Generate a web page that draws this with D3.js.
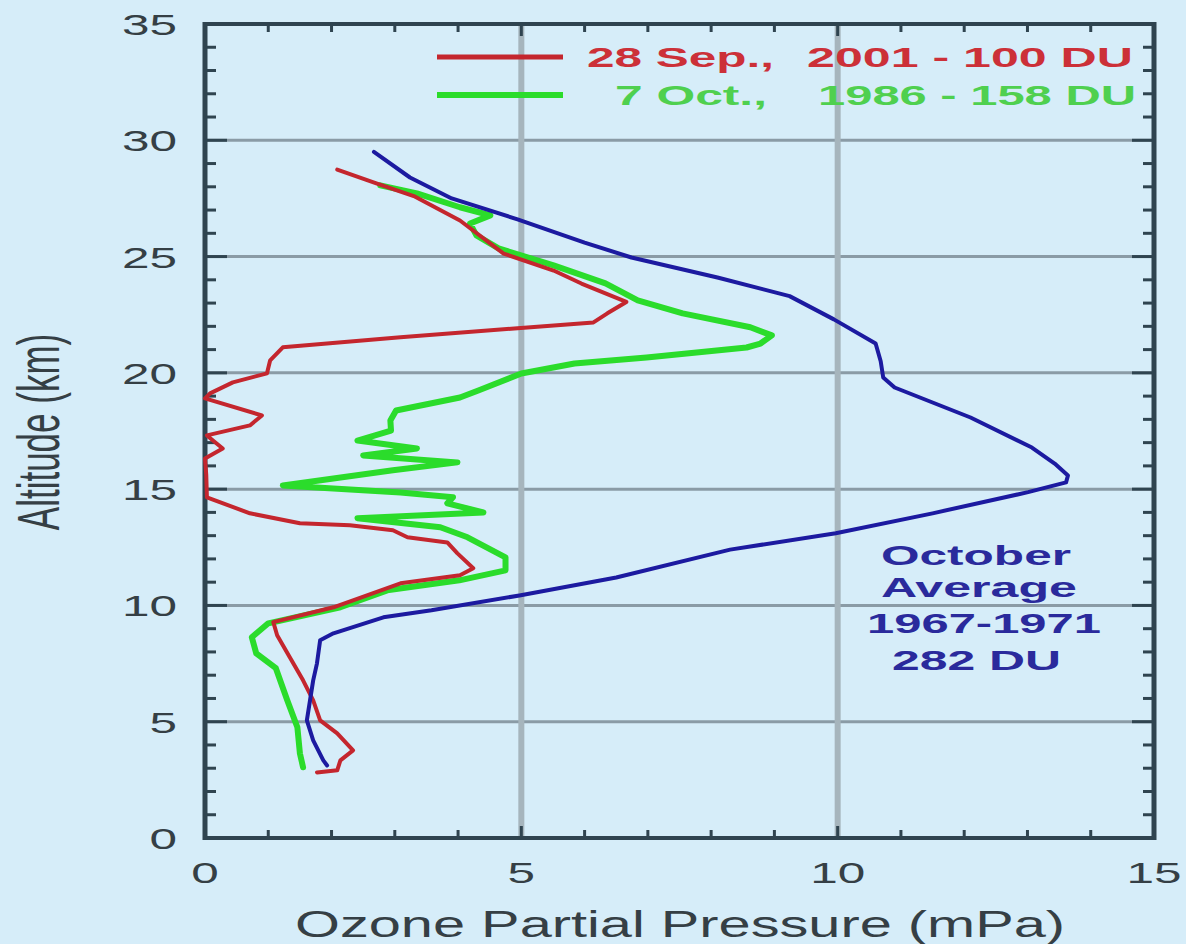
<!DOCTYPE html>
<html>
<head>
<meta charset="utf-8">
<script src="https://cdn.jsdelivr.net/npm/d3@7"></script>
<style>
  html, body { margin: 0; padding: 0; background: #d6edf9; }
  svg { display: block; }
</style>
</head>
<body>
<div id="chart"></div>
<script>
// ozone profiles: partial pressure (mPa) vs altitude (km)
var redPres = [2.09,2.72,3.30,4.03,4.72,5.51,5.95,6.66,6.36,6.14,4.94,3.09,1.23,1.03,0.98,0.44,0.08,0.00,0.90,0.71,0.03,0.28,0.00,0.02,0.03,0.71,1.50,2.29,2.97,3.20,3.83,3.99,4.24,4.03,3.09,2.03,1.08,1.14,1.34,1.55,1.71,1.82,2.09,2.34,2.14,2.09,1.77];
var redAlt  = [28.74,28.14,27.60,26.55,25.13,24.40,23.84,23.05,22.56,22.17,21.92,21.53,21.10,20.54,19.98,19.59,19.12,18.90,18.17,17.74,17.31,16.75,16.32,15.60,14.65,13.96,13.53,13.45,13.23,12.93,12.71,12.24,11.60,11.30,10.95,9.92,9.28,8.72,7.77,6.78,5.92,5.06,4.50,3.77,3.34,2.91,2.82];

var greenPres = [2.77,3.35,4.03,4.51,4.19,4.29,4.64,5.51,6.33,6.84,7.55,8.62,8.96,8.78,8.56,6.98,5.84,5.00,4.32,4.03,3.02,2.93,2.94,2.41,3.35,2.50,3.99,2.97,1.23,3.09,3.92,3.83,4.40,2.41,3.72,4.15,4.75,4.75,4.02,2.88,2.14,1.00,0.74,0.81,1.12,1.30,1.46,1.50,1.55];
var greenAlt  = [28.06,27.72,27.12,26.77,26.42,25.91,25.35,24.62,23.85,23.12,22.56,21.96,21.61,21.26,21.09,20.66,20.40,19.97,19.24,18.94,18.38,17.95,17.52,17.09,16.75,16.45,16.15,15.81,15.16,14.86,14.65,14.39,14.00,13.75,13.36,12.93,12.07,11.51,11.08,10.65,9.92,9.23,8.63,7.94,7.30,5.92,4.76,3.64,3.04];

var bluePres = [2.67,3.24,3.90,4.94,6.00,6.74,8.10,9.24,9.94,10.60,10.68,10.72,10.90,12.10,13.07,13.43,13.64,13.61,13.01,11.50,9.97,8.30,6.50,4.97,3.58,2.82,2.03,1.82,1.77,1.71,1.66,1.61,1.71,1.87,1.93];
var blueAlt  = [29.50,28.40,27.50,26.60,25.60,24.96,24.10,23.30,22.30,21.26,20.50,19.80,19.37,18.08,16.79,16.10,15.59,15.29,14.87,13.96,13.10,12.40,11.20,10.43,9.79,9.49,8.80,8.50,7.51,6.78,5.92,5.06,4.20,3.34,3.12];

var xMajor = [0, 5, 10, 15];
var yMajor = [0, 5, 10, 15, 20, 25, 30, 35];
var xMinor = d3.range(0, 16, 1);
var yMinor = d3.range(0, 36, 1);

var legendRows = [
  {left: "28 Sep.,", right: "2001 - 100 DU"},
  {left: "7 Oct.,",  right: "1986 - 158 DU"}
];
var noteLines = ["October", "Average", "1967-1971", "282 DU"];

var W = 1186, H = 944;
var svg = d3.select("#chart").append("svg").attr("width", W).attr("height", H);
svg.append("rect").attr("width", W).attr("height", H).attr("fill", "#d6edf9");

var x = d3.scaleLinear().domain([0, 15]).range([205, 1154]);
var y = d3.scaleLinear().domain([0, 35]).range([838, 24]);

var axisCol = "#2f4450", textCol = "#353f45";

// grid lines
svg.selectAll(".hgrid").data(yMajor.filter(function(d){return d > 0 && d < 35;})).enter()
  .append("line").attr("x1", x(0)).attr("x2", x(15))
  .attr("y1", function(d){return y(d);}).attr("y2", function(d){return y(d);})
  .attr("stroke", "#8a9ba6").attr("stroke-width", 3);
svg.selectAll(".vgrid").data(xMajor.filter(function(d){return d > 0 && d < 15;})).enter()
  .append("line").attr("y1", y(0)).attr("y2", y(35))
  .attr("x1", function(d){return x(d);}).attr("x2", function(d){return x(d);})
  .attr("stroke", "#a6b5bd").attr("stroke-width", 6);

// minor ticks, inward on all four sides
var tk = svg.append("g").attr("stroke", axisCol).attr("stroke-width", 3);
yMinor.forEach(function(d){
  var len = d % 5 === 0 ? 22 : 11;
  tk.append("line").attr("x1", x(0)).attr("x2", x(0) + len).attr("y1", y(d)).attr("y2", y(d));
  tk.append("line").attr("x1", x(15)).attr("x2", x(15) - len).attr("y1", y(d)).attr("y2", y(d));
});
xMinor.forEach(function(d){
  var len = d % 5 === 0 ? 12 : 8;
  tk.append("line").attr("x1", x(d)).attr("x2", x(d)).attr("y1", y(0)).attr("y2", y(0) - len);
  tk.append("line").attr("x1", x(d)).attr("x2", x(d)).attr("y1", y(35)).attr("y2", y(35) + len);
});

// frame
svg.append("line").attr("x1", x(0)).attr("x2", x(0)).attr("y1", y(35) - 2).attr("y2", y(0) + 2).attr("stroke", axisCol).attr("stroke-width", 5);
svg.append("line").attr("x1", x(15)).attr("x2", x(15)).attr("y1", y(35) - 2).attr("y2", y(0) + 2).attr("stroke", axisCol).attr("stroke-width", 5);
svg.append("line").attr("x1", x(0)).attr("x2", x(15)).attr("y1", y(0)).attr("y2", y(0)).attr("stroke", axisCol).attr("stroke-width", 4);
svg.append("line").attr("x1", x(0)).attr("x2", x(15)).attr("y1", y(35)).attr("y2", y(35)).attr("stroke", axisCol).attr("stroke-width", 4);

// stretched text helper (the picture is wide, glyphs are stretched horizontally)
function stext(tx, ty, str, size, weight, color, sx, anchor) {
  return svg.append("text")
    .attr("transform", "translate(" + tx + "," + ty + ") scale(" + sx + ",1)")
    .attr("text-anchor", anchor || "start")
    .attr("font-family", "Liberation Sans, Arial, sans-serif")
    .attr("font-size", size).attr("font-weight", weight)
    .attr("fill", color).text(str);
}
function ftext(tx, ty, str, size, weight, color, len) {
  return svg.append("text").attr("x", tx).attr("y", ty)
    .attr("textLength", len).attr("lengthAdjust", "spacingAndGlyphs")
    .attr("font-family", "Liberation Sans, Arial, sans-serif")
    .attr("font-size", size).attr("font-weight", weight)
    .attr("fill", color).text(str);
}

// tick labels
yMajor.forEach(function(d){
  stext(177, y(d) + 11, d, 30, "normal", textCol, 1.65, "end");
});
xMajor.forEach(function(d){
  stext(x(d), 883, d, 30, "normal", textCol, 1.65, "middle");
});

// axis titles
ftext(295, 937, "Ozone Partial Pressure (mPa)", 37, "normal", textCol, 770);
svg.append("text")
  .attr("transform", "translate(59,432) scale(1.68,1) rotate(-90)")
  .attr("text-anchor", "middle")
  .attr("font-family", "Liberation Sans, Arial, sans-serif")
  .attr("font-size", 35).attr("fill", textCol).text("Altitude (km)");

// profiles
var line = d3.line().x(function(d){return x(d[0]);}).y(function(d){return y(d[1]);});
function draw(pres, alt, col, w) {
  svg.append("path").datum(d3.zip(pres, alt))
    .attr("d", line).attr("fill", "none")
    .attr("stroke", col).attr("stroke-width", w)
    .attr("stroke-linejoin", "round").attr("stroke-linecap", "round");
}
draw(greenPres, greenAlt, "#2bdc2b", 6);
draw(redPres, redAlt, "#c4262e", 4);
draw(bluePres, blueAlt, "#1c1aa0", 4);

// legend
svg.append("line").attr("x1", 437).attr("x2", 563).attr("y1", 57).attr("y2", 57).attr("stroke", "#c4262e").attr("stroke-width", 5);
svg.append("line").attr("x1", 437).attr("x2", 563).attr("y1", 95).attr("y2", 95).attr("stroke", "#2bdc2b").attr("stroke-width", 6);
ftext(587, 67, legendRows[0].left, 28, "bold", "#cc3038", 187);
ftext(807, 67, legendRows[0].right, 28, "bold", "#cc3038", 326);
ftext(615, 105, legendRows[1].left, 28, "bold", "#4fd04f", 152);
ftext(818, 105, legendRows[1].right, 28, "bold", "#4fd04f", 318);

// note for blue curve
var noteCol = "#2a2a9c";
ftext(881, 565, noteLines[0], 28, "bold", noteCol, 190);
ftext(881, 597, noteLines[1], 28, "bold", noteCol, 196);
ftext(867, 633, noteLines[2], 28, "bold", noteCol, 234);
ftext(892, 670, noteLines[3], 28, "bold", noteCol, 169);
</script>
</body>
</html>
